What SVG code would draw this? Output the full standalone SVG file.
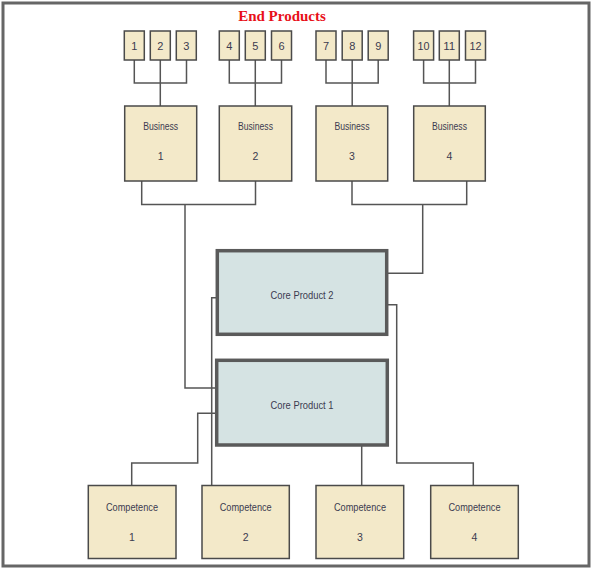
<svg xmlns="http://www.w3.org/2000/svg" width="594" height="570" viewBox="0 0 594 570">
<style>
.frame{fill:#ffffff;stroke:#666666;stroke-width:3}
.sm{fill:#f3e9c9;stroke:#4a4a4a;stroke-width:1.5}
.bx{fill:#f3e9c9;stroke:#4a4a4a;stroke-width:1.5}
.core{fill:#d5e3e3;stroke:#5a5a5a;stroke-width:3.5}
.t{font-family:"Liberation Sans",Arial,sans-serif;font-size:10.5px;fill:#3b3b50;text-anchor:middle;dominant-baseline:central}
.d{font-family:"Liberation Sans",Arial,sans-serif;font-size:11px;fill:#3b3b50;text-anchor:middle;dominant-baseline:central}
.title{font-family:"Liberation Serif","Times New Roman",serif;font-size:15px;font-weight:bold;fill:#e8101a;text-anchor:middle}
.c{fill:none;stroke:#555555;stroke-width:1.5}
</style>
<rect class="frame" x="3" y="3" width="586" height="563"/>
<text class="title" x="282" y="21">End Products</text>
<g id="connectors">
<path class="c" d="M134.3,60V83H186.5V60M160.3,60V106"/>
<path class="c" d="M229.3,60V83H281.5V60M255.3,60V106"/>
<path class="c" d="M326,60V83H378.2V60M352.2,60V106"/>
<path class="c" d="M423.6,60V83H475.5V60M449.3,60V106"/>
<path class="c" d="M141.7,181V204.5H255.5V181M185,204.5V388H217"/>
<path class="c" d="M352,181V204.5H466.7V181M422.7,204.5V273.3H386.7"/>
<path class="c" d="M217.3,297.7H211.7V485"/>
<path class="c" d="M386.7,304.7H396.7V463H473.3V485"/>
<path class="c" d="M216.7,413.3H197.7V463H131.7V485"/>
<path class="c" d="M361.7,445V485"/>
</g>
<g id="ep1"><rect class="sm" x="124.3" y="31" width="20" height="29"/><text class="d" x="134.3" y="45.5">1</text></g>
<g id="ep2"><rect class="sm" x="150.3" y="31" width="20" height="29"/><text class="d" x="160.3" y="45.5">2</text></g>
<g id="ep3"><rect class="sm" x="176.3" y="31" width="20" height="29"/><text class="d" x="186.3" y="45.5">3</text></g>
<g id="ep4"><rect class="sm" x="219.3" y="31" width="20" height="29"/><text class="d" x="229.3" y="45.5">4</text></g>
<g id="ep5"><rect class="sm" x="245.3" y="31" width="20" height="29"/><text class="d" x="255.3" y="45.5">5</text></g>
<g id="ep6"><rect class="sm" x="271.5" y="31" width="20" height="29"/><text class="d" x="281.5" y="45.5">6</text></g>
<g id="ep7"><rect class="sm" x="316" y="31" width="20" height="29"/><text class="d" x="326" y="45.5">7</text></g>
<g id="ep8"><rect class="sm" x="342.2" y="31" width="20" height="29"/><text class="d" x="352.2" y="45.5">8</text></g>
<g id="ep9"><rect class="sm" x="368.2" y="31" width="20" height="29"/><text class="d" x="378.2" y="45.5">9</text></g>
<g id="ep10"><rect class="sm" x="413.6" y="31" width="20" height="29"/><text class="d" x="423.6" y="45.5" textLength="12" lengthAdjust="spacingAndGlyphs">10</text></g>
<g id="ep11"><rect class="sm" x="439.3" y="31" width="20" height="29"/><text class="d" x="449.3" y="45.5" textLength="12" lengthAdjust="spacingAndGlyphs">11</text></g>
<g id="ep12"><rect class="sm" x="465.5" y="31" width="20" height="29"/><text class="d" x="475.5" y="45.5" textLength="12" lengthAdjust="spacingAndGlyphs">12</text></g>
<g id="business1"><rect class="bx" x="124.7" y="106" width="72" height="75"/><text class="t" x="160.7" y="125.5" textLength="35" lengthAdjust="spacingAndGlyphs">Business</text><text class="t" x="160.7" y="156">1</text></g>
<g id="business2"><rect class="bx" x="219.3" y="106" width="72.4" height="75"/><text class="t" x="255.5" y="125.5" textLength="35" lengthAdjust="spacingAndGlyphs">Business</text><text class="t" x="255.5" y="156">2</text></g>
<g id="business3"><rect class="bx" x="316" y="106" width="71.7" height="75"/><text class="t" x="352" y="125.5" textLength="35" lengthAdjust="spacingAndGlyphs">Business</text><text class="t" x="352" y="156">3</text></g>
<g id="business4"><rect class="bx" x="413.7" y="106" width="71.6" height="75"/><text class="t" x="449.5" y="125.5" textLength="35" lengthAdjust="spacingAndGlyphs">Business</text><text class="t" x="449.5" y="156">4</text></g>
<g id="core2"><rect class="core" x="217.3" y="250.7" width="169.4" height="83.6"/><text class="t" x="302" y="295" textLength="63" lengthAdjust="spacingAndGlyphs">Core Product 2</text></g>
<g id="core1"><rect class="core" x="216.7" y="360.3" width="170.6" height="84.7"/><text class="t" x="302" y="404.5" textLength="63" lengthAdjust="spacingAndGlyphs">Core Product 1</text></g>
<g id="comp1"><rect class="bx" x="88.3" y="485.5" width="87.7" height="73"/><text class="t" x="132" y="506.5" textLength="52" lengthAdjust="spacingAndGlyphs">Competence</text><text class="t" x="132" y="537">1</text></g>
<g id="comp2"><rect class="bx" x="202" y="485.5" width="87.3" height="73"/><text class="t" x="245.7" y="506.5" textLength="52" lengthAdjust="spacingAndGlyphs">Competence</text><text class="t" x="245.7" y="537">2</text></g>
<g id="comp3"><rect class="bx" x="316" y="485.5" width="87.7" height="73"/><text class="t" x="360" y="506.5" textLength="52" lengthAdjust="spacingAndGlyphs">Competence</text><text class="t" x="360" y="537">3</text></g>
<g id="comp4"><rect class="bx" x="430.7" y="485.5" width="87.6" height="73"/><text class="t" x="474.5" y="506.5" textLength="52" lengthAdjust="spacingAndGlyphs">Competence</text><text class="t" x="474.5" y="537">4</text></g>
</svg>
